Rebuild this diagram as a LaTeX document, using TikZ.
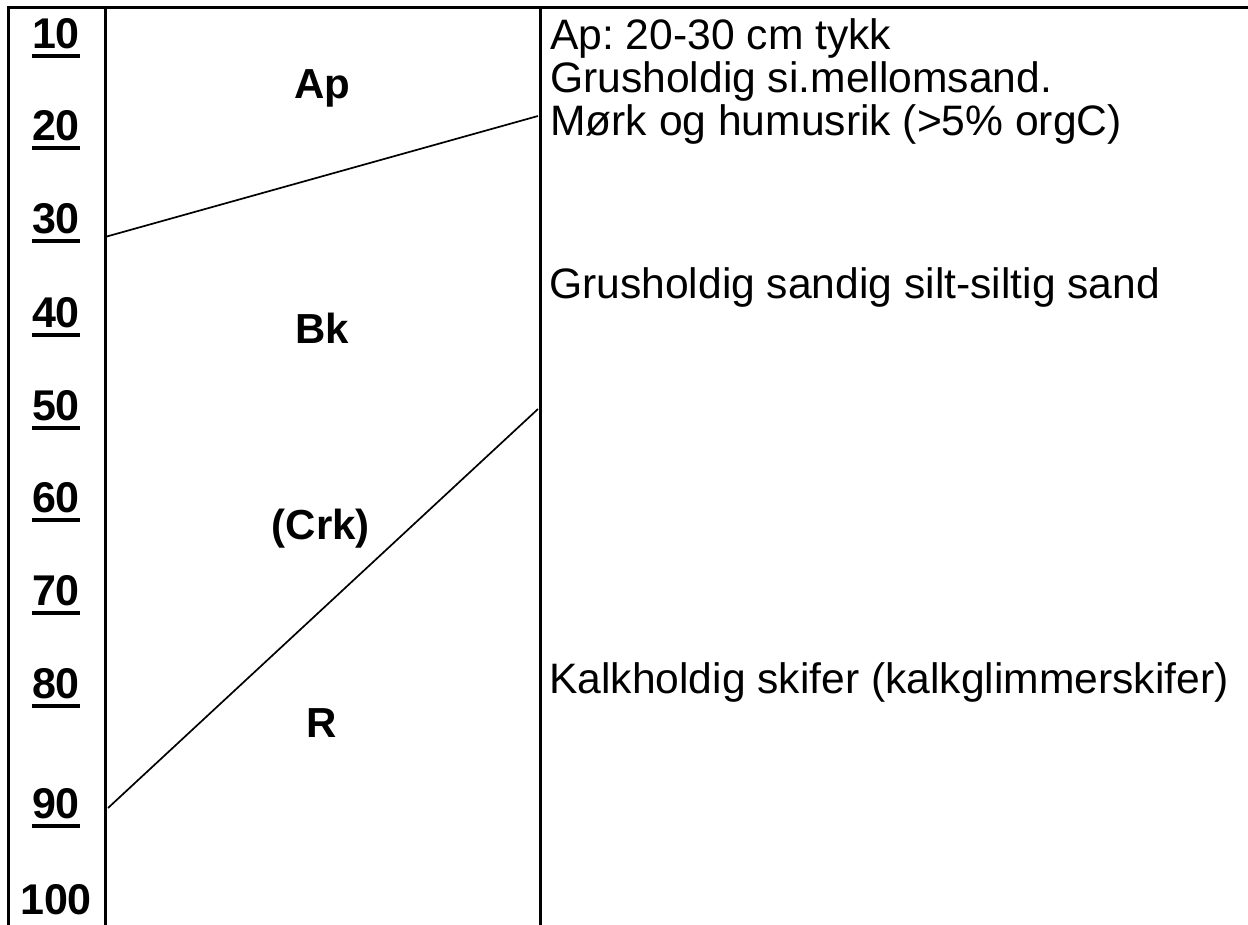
\documentclass[tikz,border=0pt]{standalone}
\usepackage{fontspec}
\setmainfont{Liberation Sans}
\usetikzlibrary{calc}
\frenchspacing
\begin{document}
\begin{tikzpicture}[x=1pt,y=-1pt,
  frame/.style={line width=3pt},
  bound/.style={line width=1.7pt},
  num/.style={inner sep=0pt,anchor=base,font=\fontsize{43}{43}\selectfont\bfseries},
  ul/.style={line width=4.5pt},
  horizon/.style={inner sep=0pt,anchor=base,font=\fontsize{42}{42}\selectfont\bfseries},
  desc/.style={inner sep=0pt,anchor=base west,font=\fontsize{42.6}{42.6}\selectfont\frenchspacing}]
\useasboundingbox (0,0) rectangle (1248,924);
\begin{scope}
\clip (0,0) rectangle (1248,924);
% frame
\draw[frame] (8,930) -- (8,7) -- (1260,7);
\draw[frame] (105,7) -- (105,930);
\draw[frame] (540,7) -- (540,930);
% depth numbers
\foreach \v/\y in {10/48,20/140,30/233,40/327,50/420,60/512,70/605,80/698,90/818}{
  \node[num] (n\v) at (56,\y) {\v};
  \draw[ul] ($(n\v.base west)+(0,8)$) -- ($(n\v.base east)+(0,8)$);
}
\node[num] (n100) at (56,914) {100};
% boundaries
\coordinate (a1) at (105,237);
\coordinate (a2) at (538,116);
\coordinate (b1) at (108,808);
\coordinate (b2) at (538,409);
\draw[bound] (a1) -- (a2);
\draw[bound] (b1) -- (b2);
% horizon labels
\node[horizon] (hAp) at (322,98) {Ap};
\node[horizon] (hBk) at (322,343) {Bk};
\node[horizon] (hCrk) at (321,539) {(Crk)};
\node[horizon] (hR) at (322,737) {R};
% descriptions
\node[desc] (d1) at (550,49) {Ap: 20-30 cm tykk};
\node[desc] (d2) at (550,92) {Grusholdig si.mellomsand.};
\node[desc] (d3) at (550,135) {Mørk og humusrik (>5\% orgC)};
\node[desc] (d4) at (549,298) {Grusholdig sandig silt-siltig sand};
\node[desc] (d5) at (549,693) {Kalkholdig skifer (kalkglimmerskifer)};
\end{scope}
\end{tikzpicture}
\end{document}
